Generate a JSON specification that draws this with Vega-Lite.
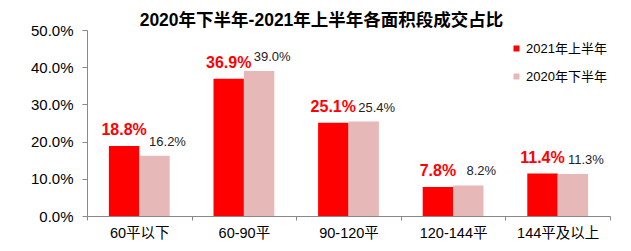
{
  "$schema": "https://vega.github.io/schema/vega-lite/v6.json",
  "width": 523,
  "height": 186,
  "autosize": {"type": "none"},
  "padding": {"left": 87, "top": 30, "right": 21, "bottom": 35},
  "background": "white",
  "title": {
    "text": "2020年下半年-2021年上半年各面积段成交占比",
    "anchor": "middle",
    "frame": "group",
    "dx": -27,
    "dy": 6,
    "offset": 0,
    "fontSize": 17.5,
    "fontWeight": "bold",
    "color": "#000000",
    "font": "Liberation Sans, Noto Sans CJK SC"
  },
  "config": {
    "font": "Liberation Sans, Noto Sans CJK SC",
    "view": {"stroke": null}
  },
  "data": {
    "values": [
      {"cat": "60平以下", "series": "2021年上半年", "value": 0.188},
      {"cat": "60平以下", "series": "2020年下半年", "value": 0.162},
      {"cat": "60-90平", "series": "2021年上半年", "value": 0.369},
      {"cat": "60-90平", "series": "2020年下半年", "value": 0.390},
      {"cat": "90-120平", "series": "2021年上半年", "value": 0.251},
      {"cat": "90-120平", "series": "2020年下半年", "value": 0.254},
      {"cat": "120-144平", "series": "2021年上半年", "value": 0.078},
      {"cat": "120-144平", "series": "2020年下半年", "value": 0.082},
      {"cat": "144平及以上", "series": "2021年上半年", "value": 0.114},
      {"cat": "144平及以上", "series": "2020年下半年", "value": 0.113}
    ]
  },
  "encoding": {
    "x": {
      "field": "cat",
      "type": "nominal",
      "scale": {"domain": ["60平以下", "60-90平", "90-120平", "120-144平", "144平及以上"], "paddingInner": 0, "paddingOuter": 0},
      "axis": {
        "title": null,
        "labelAngle": 0,
        "labelFontSize": 14.5,
        "labelColor": "#000000",
        "labelPadding": 6,
        "tickBand": "extent",
        "tickSize": 4,
        "tickColor": "#898989",
        "domainColor": "#898989",
        "labelBaseline": "top"
      }
    },
    "xOffset": {
      "field": "series",
      "type": "nominal",
      "scale": {"domain": ["2021年上半年", "2020年下半年"], "paddingInner": 0, "paddingOuter": 0.72}
    },
    "y": {
      "field": "value",
      "type": "quantitative",
      "scale": {"domain": [0, 0.5]},
      "axis": {
        "title": null,
        "values": [0, 0.1, 0.2, 0.3, 0.4, 0.5],
        "format": ".1%",
        "grid": false,
        "labelFontSize": 15,
        "labelColor": "#000000",
        "labelPadding": 9,
        "tickSize": 5,
        "tickColor": "#898989",
        "domainColor": "#898989"
      }
    }
  },
  "layer": [
    {
      "mark": {"type": "bar"},
      "encoding": {
        "color": {
          "field": "series",
          "type": "nominal",
          "scale": {"domain": ["2021年上半年", "2020年下半年"], "range": ["#FF0000", "#E6B9B8"]},
          "legend": {
            "title": null,
            "orient": "none",
            "legendX": 423,
            "legendY": 12,
            "symbolType": "square",
            "symbolSize": 36,
            "symbolStrokeWidth": 0,
            "labelFontSize": 13,
            "labelColor": "#000000",
            "labelOffset": 3,
            "rowPadding": 14
          }
        }
      }
    },
    {
      "transform": [{"filter": "datum.series === '2021年上半年'"}],
      "mark": {"type": "text", "fontSize": 16, "fontWeight": "bold", "color": "#FF0000", "dy": -11, "baseline": "alphabetic"},
      "encoding": {"text": {"field": "value", "type": "quantitative", "format": ".1%"}}
    },
    {
      "transform": [{"filter": "datum.series === '2020年下半年'"}],
      "mark": {"type": "text", "fontSize": 13, "color": "#222222", "dx": 13, "dy": -10, "baseline": "alphabetic"},
      "encoding": {"text": {"field": "value", "type": "quantitative", "format": ".1%"}}
    }
  ]
}
